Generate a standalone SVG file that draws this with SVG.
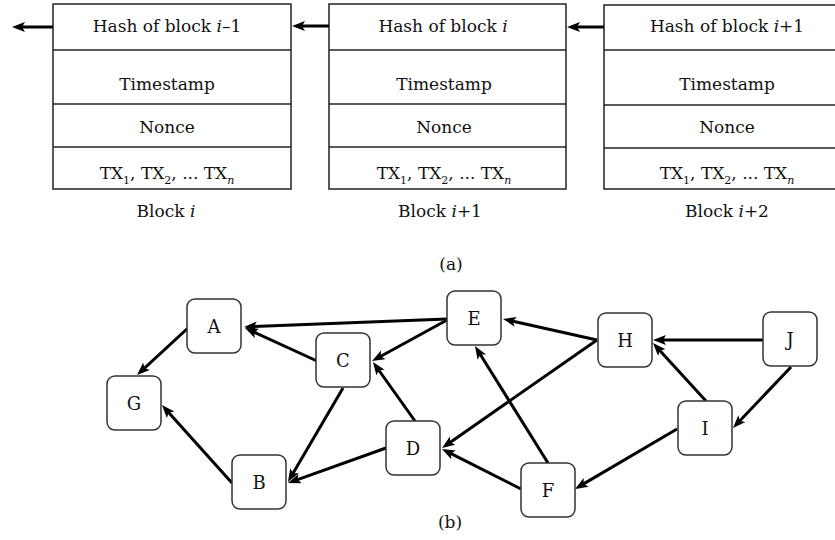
<svg xmlns="http://www.w3.org/2000/svg" width="835" height="540" viewBox="0 0 835 540">
<style>
text{font-family:'DejaVu Serif',serif;font-size:17px;fill:#111;text-anchor:middle}
.node text{font-size:18px}
.blk{fill:#fff;stroke:#222;stroke-width:1.5}
.div{stroke:#222;stroke-width:1.5}
.node rect{fill:#fff;stroke:#333;stroke-width:1.5}
.edge line{stroke:#000;stroke-width:3;fill:none;marker-end:url(#ah)}
.sub{font-size:11px}
</style>
<defs>
<marker id="ah" markerUnits="userSpaceOnUse" markerWidth="14" markerHeight="11" refX="5" refY="5" orient="auto">
<path d="M0,0 L13,5 L0,10 L3,5 z" fill="#000"/>
</marker>
</defs>

<g id="block1">
<rect class="blk" x="53" y="4" width="238" height="185"/>
<line class="div" x1="53" y1="50" x2="291" y2="50"/>
<line class="div" x1="53" y1="104" x2="291" y2="104"/>
<line class="div" x1="53" y1="147" x2="291" y2="147"/>
<text x="167" y="32">Hash of block <tspan font-style="italic">i</tspan>–1</text>
<text x="167" y="90">Timestamp</text>
<text x="167" y="133">Nonce</text>
<text x="167" y="179">TX<tspan class="sub" dy="5">1</tspan><tspan dy="-5">, TX</tspan><tspan class="sub" dy="5">2</tspan><tspan dy="-5">, ... TX</tspan><tspan class="sub" dy="5" font-style="italic">n</tspan></text>
<text x="166" y="217">Block <tspan font-style="italic">i</tspan></text>
</g>

<g id="block2">
<rect class="blk" x="329" y="4" width="237" height="185"/>
<line class="div" x1="329" y1="50" x2="566" y2="50"/>
<line class="div" x1="329" y1="104" x2="566" y2="104"/>
<line class="div" x1="329" y1="147" x2="566" y2="147"/>
<text x="443" y="32">Hash of block <tspan font-style="italic">i</tspan></text>
<text x="444" y="90">Timestamp</text>
<text x="444" y="133">Nonce</text>
<text x="444" y="179">TX<tspan class="sub" dy="5">1</tspan><tspan dy="-5">, TX</tspan><tspan class="sub" dy="5">2</tspan><tspan dy="-5">, ... TX</tspan><tspan class="sub" dy="5" font-style="italic">n</tspan></text>
<text x="440" y="217">Block <tspan font-style="italic">i</tspan>+1</text>
</g>

<g id="block3">
<rect class="blk" x="604" y="5" width="240" height="184"/>
<line class="div" x1="604" y1="50" x2="835" y2="50"/>
<line class="div" x1="604" y1="105" x2="835" y2="105"/>
<line class="div" x1="604" y1="148" x2="835" y2="148"/>
<text x="727" y="32">Hash of block <tspan font-style="italic">i</tspan>+1</text>
<text x="727" y="90">Timestamp</text>
<text x="727" y="133">Nonce</text>
<text x="727" y="179">TX<tspan class="sub" dy="5">1</tspan><tspan dy="-5">, TX</tspan><tspan class="sub" dy="5">2</tspan><tspan dy="-5">, ... TX</tspan><tspan class="sub" dy="5" font-style="italic">n</tspan></text>
<text x="727" y="217">Block <tspan font-style="italic">i</tspan>+2</text>
</g>

<text x="451" y="270">(a)</text>
<text x="450" y="528">(b)</text>

<g id="connectors" class="edge">
<line x1="53" y1="27" x2="20" y2="27"/>
<line x1="329" y1="26" x2="300" y2="26"/>
<line x1="604" y1="27" x2="575" y2="27"/>
<line x1="447" y1="319" x2="252" y2="326.7"/>
<line x1="317" y1="361" x2="252.3" y2="331.3"/>
<line x1="188" y1="328" x2="142.9" y2="369.6"/>
<line x1="232" y1="483" x2="167.3" y2="411"/>
<line x1="343" y1="388" x2="292" y2="475.1"/>
<line x1="386" y1="448" x2="295.5" y2="480.3"/>
<line x1="447" y1="320" x2="379" y2="357.2"/>
<line x1="415" y1="421" x2="377.6" y2="368.5"/>
<line x1="597" y1="340" x2="510.8" y2="320.7"/>
<line x1="597" y1="340" x2="448.6" y2="443.4"/>
<line x1="548" y1="463" x2="479.2" y2="352.8"/>
<line x1="521" y1="489" x2="449.1" y2="452.6"/>
<line x1="763" y1="340" x2="661" y2="340"/>
<line x1="706" y1="401" x2="658.4" y2="348.9"/>
<line x1="791" y1="367" x2="738.5" y2="422.2"/>
<line x1="677" y1="429" x2="581.9" y2="484.9"/>
</g>

<g id="A" class="node"><rect x="187" y="299" width="54" height="54" rx="8"/><text x="214" y="333">A</text></g>
<g id="G" class="node"><rect x="107" y="376" width="54" height="54" rx="8"/><text x="134" y="410">G</text></g>
<g id="C" class="node"><rect x="316" y="333" width="54" height="54" rx="8"/><text x="343" y="367">C</text></g>
<g id="B" class="node"><rect x="232" y="455" width="54" height="54" rx="8"/><text x="259" y="489">B</text></g>
<g id="E" class="node"><rect x="447" y="291" width="54" height="54" rx="8"/><text x="474" y="325">E</text></g>
<g id="D" class="node"><rect x="386" y="421" width="54" height="54" rx="8"/><text x="413" y="455">D</text></g>
<g id="F" class="node"><rect x="521" y="463" width="54" height="54" rx="8"/><text x="548" y="497">F</text></g>
<g id="H" class="node"><rect x="598" y="313" width="54" height="54" rx="8"/><text x="625" y="347">H</text></g>
<g id="J" class="node"><rect x="763" y="312" width="54" height="54" rx="8"/><text x="790" y="346">J</text></g>
<g id="I" class="node"><rect x="678" y="401" width="54" height="54" rx="8"/><text x="705" y="435">I</text></g>
</svg>
